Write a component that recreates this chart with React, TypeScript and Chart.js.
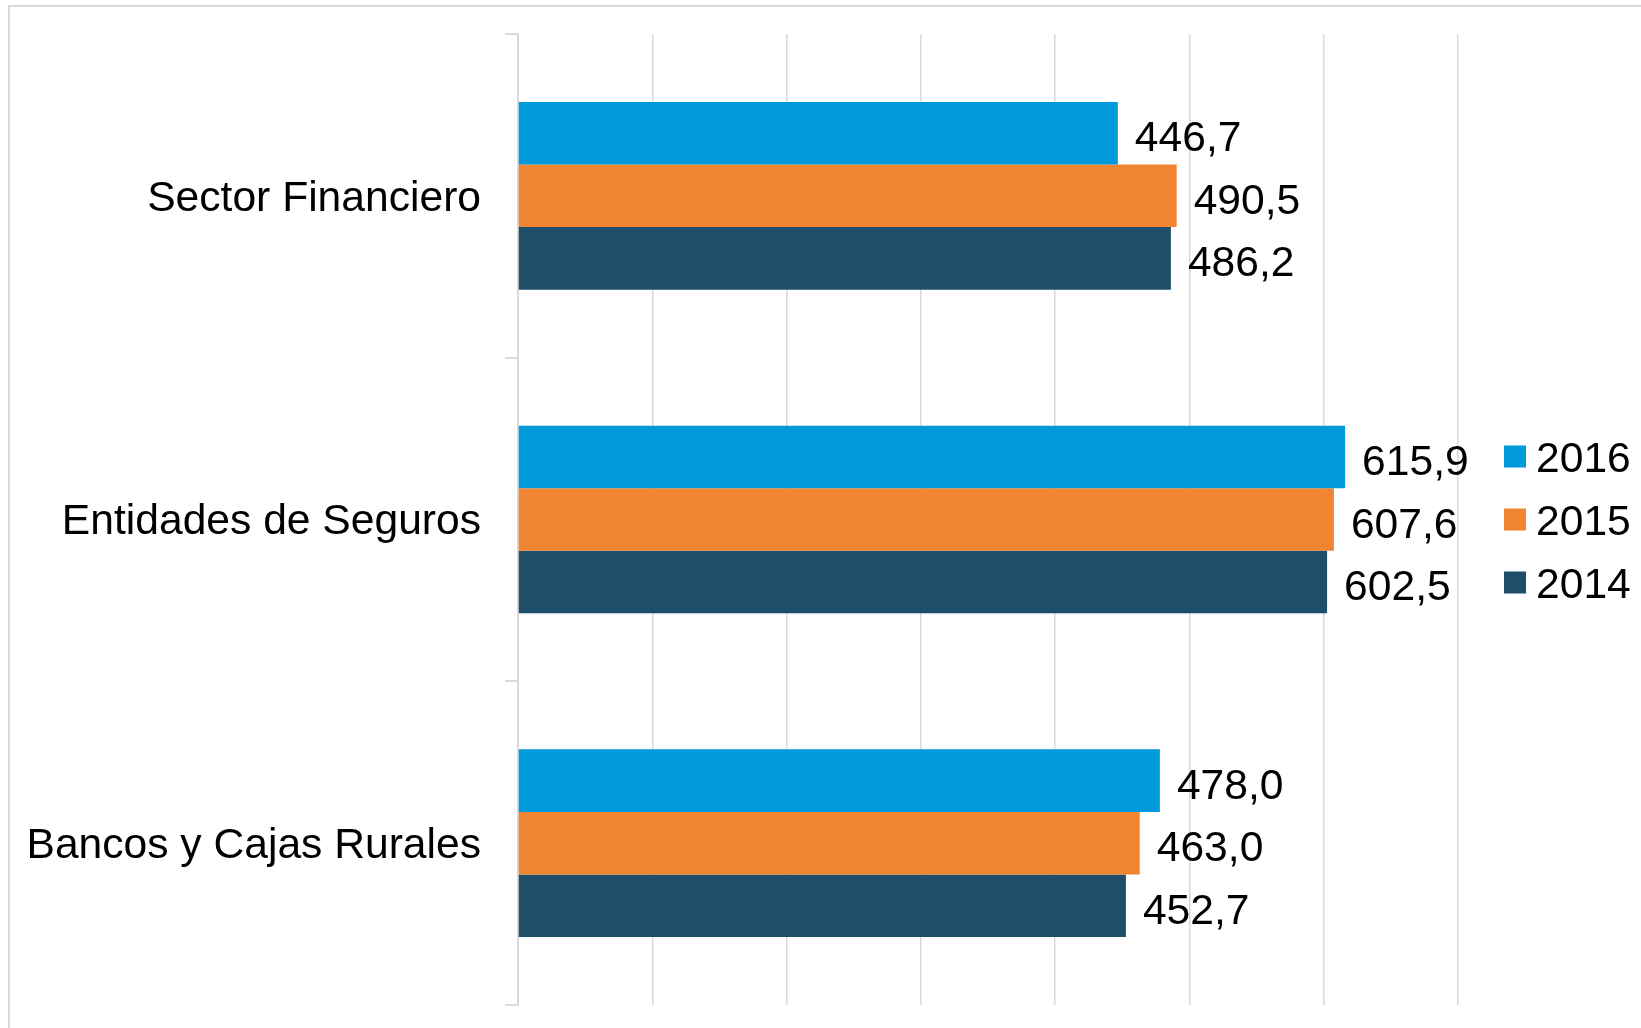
import React, { useEffect, useRef } from 'react';
import { Chart, registerables } from 'chart.js';

Chart.register(...registerables);

const categories = ['Sector Financiero', 'Entidades de Seguros', 'Bancos y Cajas Rurales'];
const seriesLabels = ['2016', '2015', '2014'];
const values2016 = [446.7, 615.9, 478.0];
const values2015 = [490.5, 607.6, 463.0];
const values2014 = [486.2, 602.5, 452.7];
const seriesColors = ['#009ADA', '#F28532', '#1F4E6A'];
const axisMin = 0;
const axisMax = 700;
const axisStep = 100;

const FONT = "'Liberation Sans', Arial, sans-serif";
const GRID = '#D9D9D9';
const FS = 42.6;

const fmt = (v: number) => v.toFixed(1).replace('.', ',');

const frame = {
  id: 'frame',
  beforeDraw(chart: any) {
    const ctx = chart.ctx;
    ctx.save();
    ctx.fillStyle = '#ffffff';
    ctx.fillRect(0, 0, chart.width, chart.height);
    ctx.fillStyle = GRID;
    ctx.fillRect(8, 5, 2, chart.height);
    ctx.fillRect(8, 5, chart.width, 2);
    ctx.restore();
  },
};

const dataLabels = {
  id: 'dataLabels',
  afterDatasetsDraw(chart: any) {
    const ctx = chart.ctx;
    ctx.save();
    ctx.font = `${FS}px ${FONT}`;
    ctx.fillStyle = '#000000';
    ctx.textAlign = 'left';
    ctx.textBaseline = 'alphabetic';
    chart.data.datasets.forEach((ds: any, i: number) => {
      const meta = chart.getDatasetMeta(i);
      meta.data.forEach((el: any, j: number) => {
        ctx.fillText(fmt(ds.data[j]), el.x + 17, el.y + 18);
      });
    });
    ctx.restore();
  },
};

const sideLegend = {
  id: 'sideLegend',
  afterDraw(chart: any) {
    const ctx = chart.ctx;
    const area = chart.chartArea;
    const cy = (area.top + area.bottom) / 2;
    const n = chart.data.datasets.length;
    ctx.save();
    ctx.font = `${FS}px ${FONT}`;
    ctx.textAlign = 'left';
    ctx.textBaseline = 'alphabetic';
    chart.data.datasets.forEach((ds: any, i: number) => {
      const y = cy + (i - (n - 1) / 2) * 63;
      const x = area.right + 46;
      ctx.fillStyle = ds.backgroundColor;
      ctx.fillRect(x, y - 11, 22, 22);
      ctx.fillStyle = '#000000';
      ctx.fillText(ds.label, x + 32, y + 15);
    });
    ctx.restore();
  },
};

export default function App() {
  const ref = useRef<HTMLCanvasElement | null>(null);

  useEffect(() => {
    if (!ref.current) return;
    const series = [values2016, values2015, values2014];
    const chart = new Chart(ref.current, {
      type: 'bar',
      data: {
        labels: categories,
        datasets: series.map((vals, i) => ({
          label: seriesLabels[i],
          data: vals,
          backgroundColor: seriesColors[i],
          borderWidth: 0,
          categoryPercentage: 0.58,
          barPercentage: 1.0,
        })),
      },
      options: {
        indexAxis: 'y',
        responsive: false,
        animation: false,
        layout: { padding: { top: 34, bottom: 23, left: 0, right: 183 } },
        plugins: {
          legend: { display: false },
          tooltip: { enabled: false },
        },
        scales: {
          x: {
            min: axisMin,
            max: axisMax,
            ticks: { display: false, stepSize: axisStep },
            grid: { color: GRID, lineWidth: 1.5, drawTicks: false },
            border: { display: false },
            afterFit: (s: any) => {
              s.height = 0;
              s.paddingLeft = 0;
              s.paddingRight = 0;
            },
          },
          y: {
            grid: {
              offset: true,
              drawOnChartArea: false,
              drawTicks: true,
              tickLength: 13,
              color: GRID,
              lineWidth: 2,
            },
            border: { display: true, color: GRID, width: 2 },
            ticks: {
              padding: 24,
              labelOffset: 3,
              color: '#000000',
              font: { family: FONT, size: FS },
            },
            afterFit: (s: any) => {
              s.width = 518;
              s.paddingTop = 0;
              s.paddingBottom = 0;
            },
          },
        },
      },
      plugins: [frame, dataLabels, sideLegend],
    });
    return () => chart.destroy();
  }, []);

  return (
    <div style={{ position: 'fixed', left: 0, top: 0, width: 1641, height: 1028, background: '#fff' }}>
      <canvas ref={ref} width={1641} height={1028} style={{ width: 1641, height: 1028, display: 'block' }} />
    </div>
  );
}
